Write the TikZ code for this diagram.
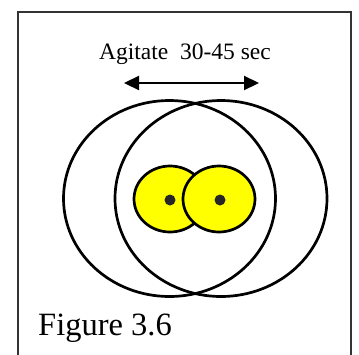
\documentclass[tikz,border=0pt]{standalone}
\usepackage{fontspec}
\setmainfont{Liberation Serif}
\usetikzlibrary{arrows.meta,shapes.geometric,positioning}
\definecolor{frameline}{HTML}{333333}
\definecolor{particle}{HTML}{FFFF00}

\begin{document}
\begin{tikzpicture}[
  x=1pt, y=-1pt,
  frame/.style={draw=frameline, line width=1.8pt},
  bowl/.style={draw, ellipse, line width=2.7pt, inner sep=0pt, minimum width=212pt, minimum height=196pt},
  blob/.style={draw, ellipse, fill=particle, line width=2.7pt, inner sep=0pt, minimum width=72pt, minimum height=66pt},
  dot/.style={circle, fill=black!85, inner sep=0pt, minimum size=11pt},
  arr/.style={{Triangle[length=15pt, width=14pt]}-{Triangle[length=15pt, width=14pt]}, line width=2.2pt},
]
\useasboundingbox (0,0) rectangle (359,354);

%% Frame (open at the bottom)
\draw[frame] (18,356) -- (18,12) -- (351,12) -- (351,356);

%% Label and arrow
\node[anchor=base, font=\fontsize{23.5}{28}\selectfont] (agitate) at (185,59) {Agitate\ \ 30-45 sec};
\coordinate (arrL) at (124,83);
\coordinate (arrR) at (259,83);
\draw[arr] (arrL) -- (arrR);

%% Two swirl positions
\node[bowl] (bowlL) at (169.5,198.5) {};
\node[bowl] (bowlR) at (221,198.5) {};

%% Particles
\node[blob] (blobL) at (170,199) {};
\node[blob] (blobR) at (219,199) {};
\node[dot] (dotL) at (170,200) {};
\node[dot] (dotR) at (220,200) {};

%% Caption
\node[anchor=base west, inner sep=0pt, font=\fontsize{32.5}{38}\selectfont] (caption) at (38,335) {Figure 3.6};

\end{tikzpicture}
\end{document}
